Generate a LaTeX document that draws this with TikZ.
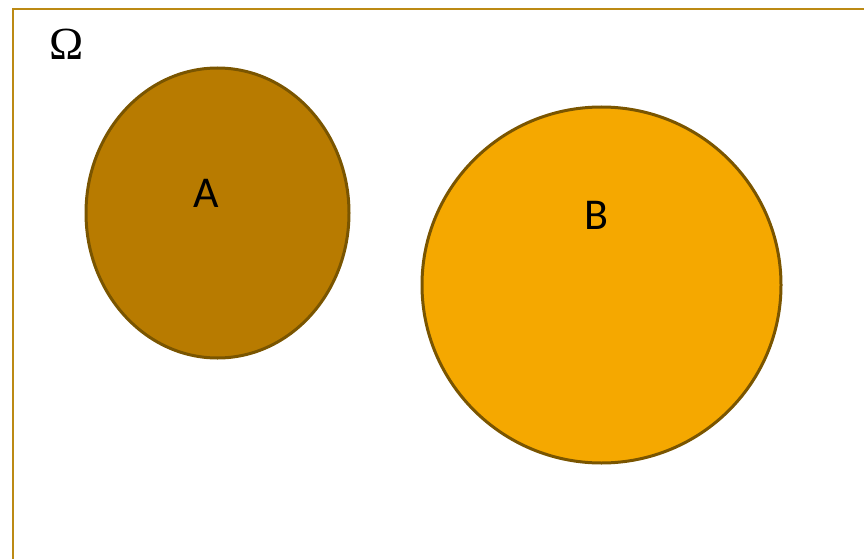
\documentclass[tikz,border=0pt]{standalone}
\usepackage{fontspec}
\setmainfont{Carlito}
\newfontfamily\omegafont{Liberation Serif}
\usetikzlibrary{shapes.geometric}
\definecolor{frameCol}{HTML}{BC8A14}
\definecolor{edgeCol}{HTML}{7A5500}
\definecolor{fillA}{HTML}{B87B00}
\definecolor{fillB}{HTML}{F5A800}
\tikzset{
  setshape/.style={ellipse, draw=edgeCol, line width=3pt, inner sep=0pt},
  setlabel/.style={font=\fontsize{44}{50}\selectfont, inner sep=0pt}
}
\begin{document}
\begin{tikzpicture}[x=1pt,y=-1pt]
    \useasboundingbox (0,0) rectangle (864,559);
    % sample space
    \draw[frameCol, line width=2.5pt] (13,9) rectangle (880,580);
    \node[font=\omegafont\fontsize{46}{52}\selectfont, inner sep=0pt] (omega) at (67,44) {Ω};

    % the two disjoint events
    \node[setshape, fill=fillA, minimum width=263pt, minimum height=290pt] (setA) at (217.5,213) {};
    \node[setshape, fill=fillB, minimum width=359pt, minimum height=356pt] (setB) at (601.5,285) {};

    \node[setlabel] (labelA) at (206,193) {A};
    \node[setlabel] (labelB) at (596,215) {B};
\end{tikzpicture}
\end{document}
